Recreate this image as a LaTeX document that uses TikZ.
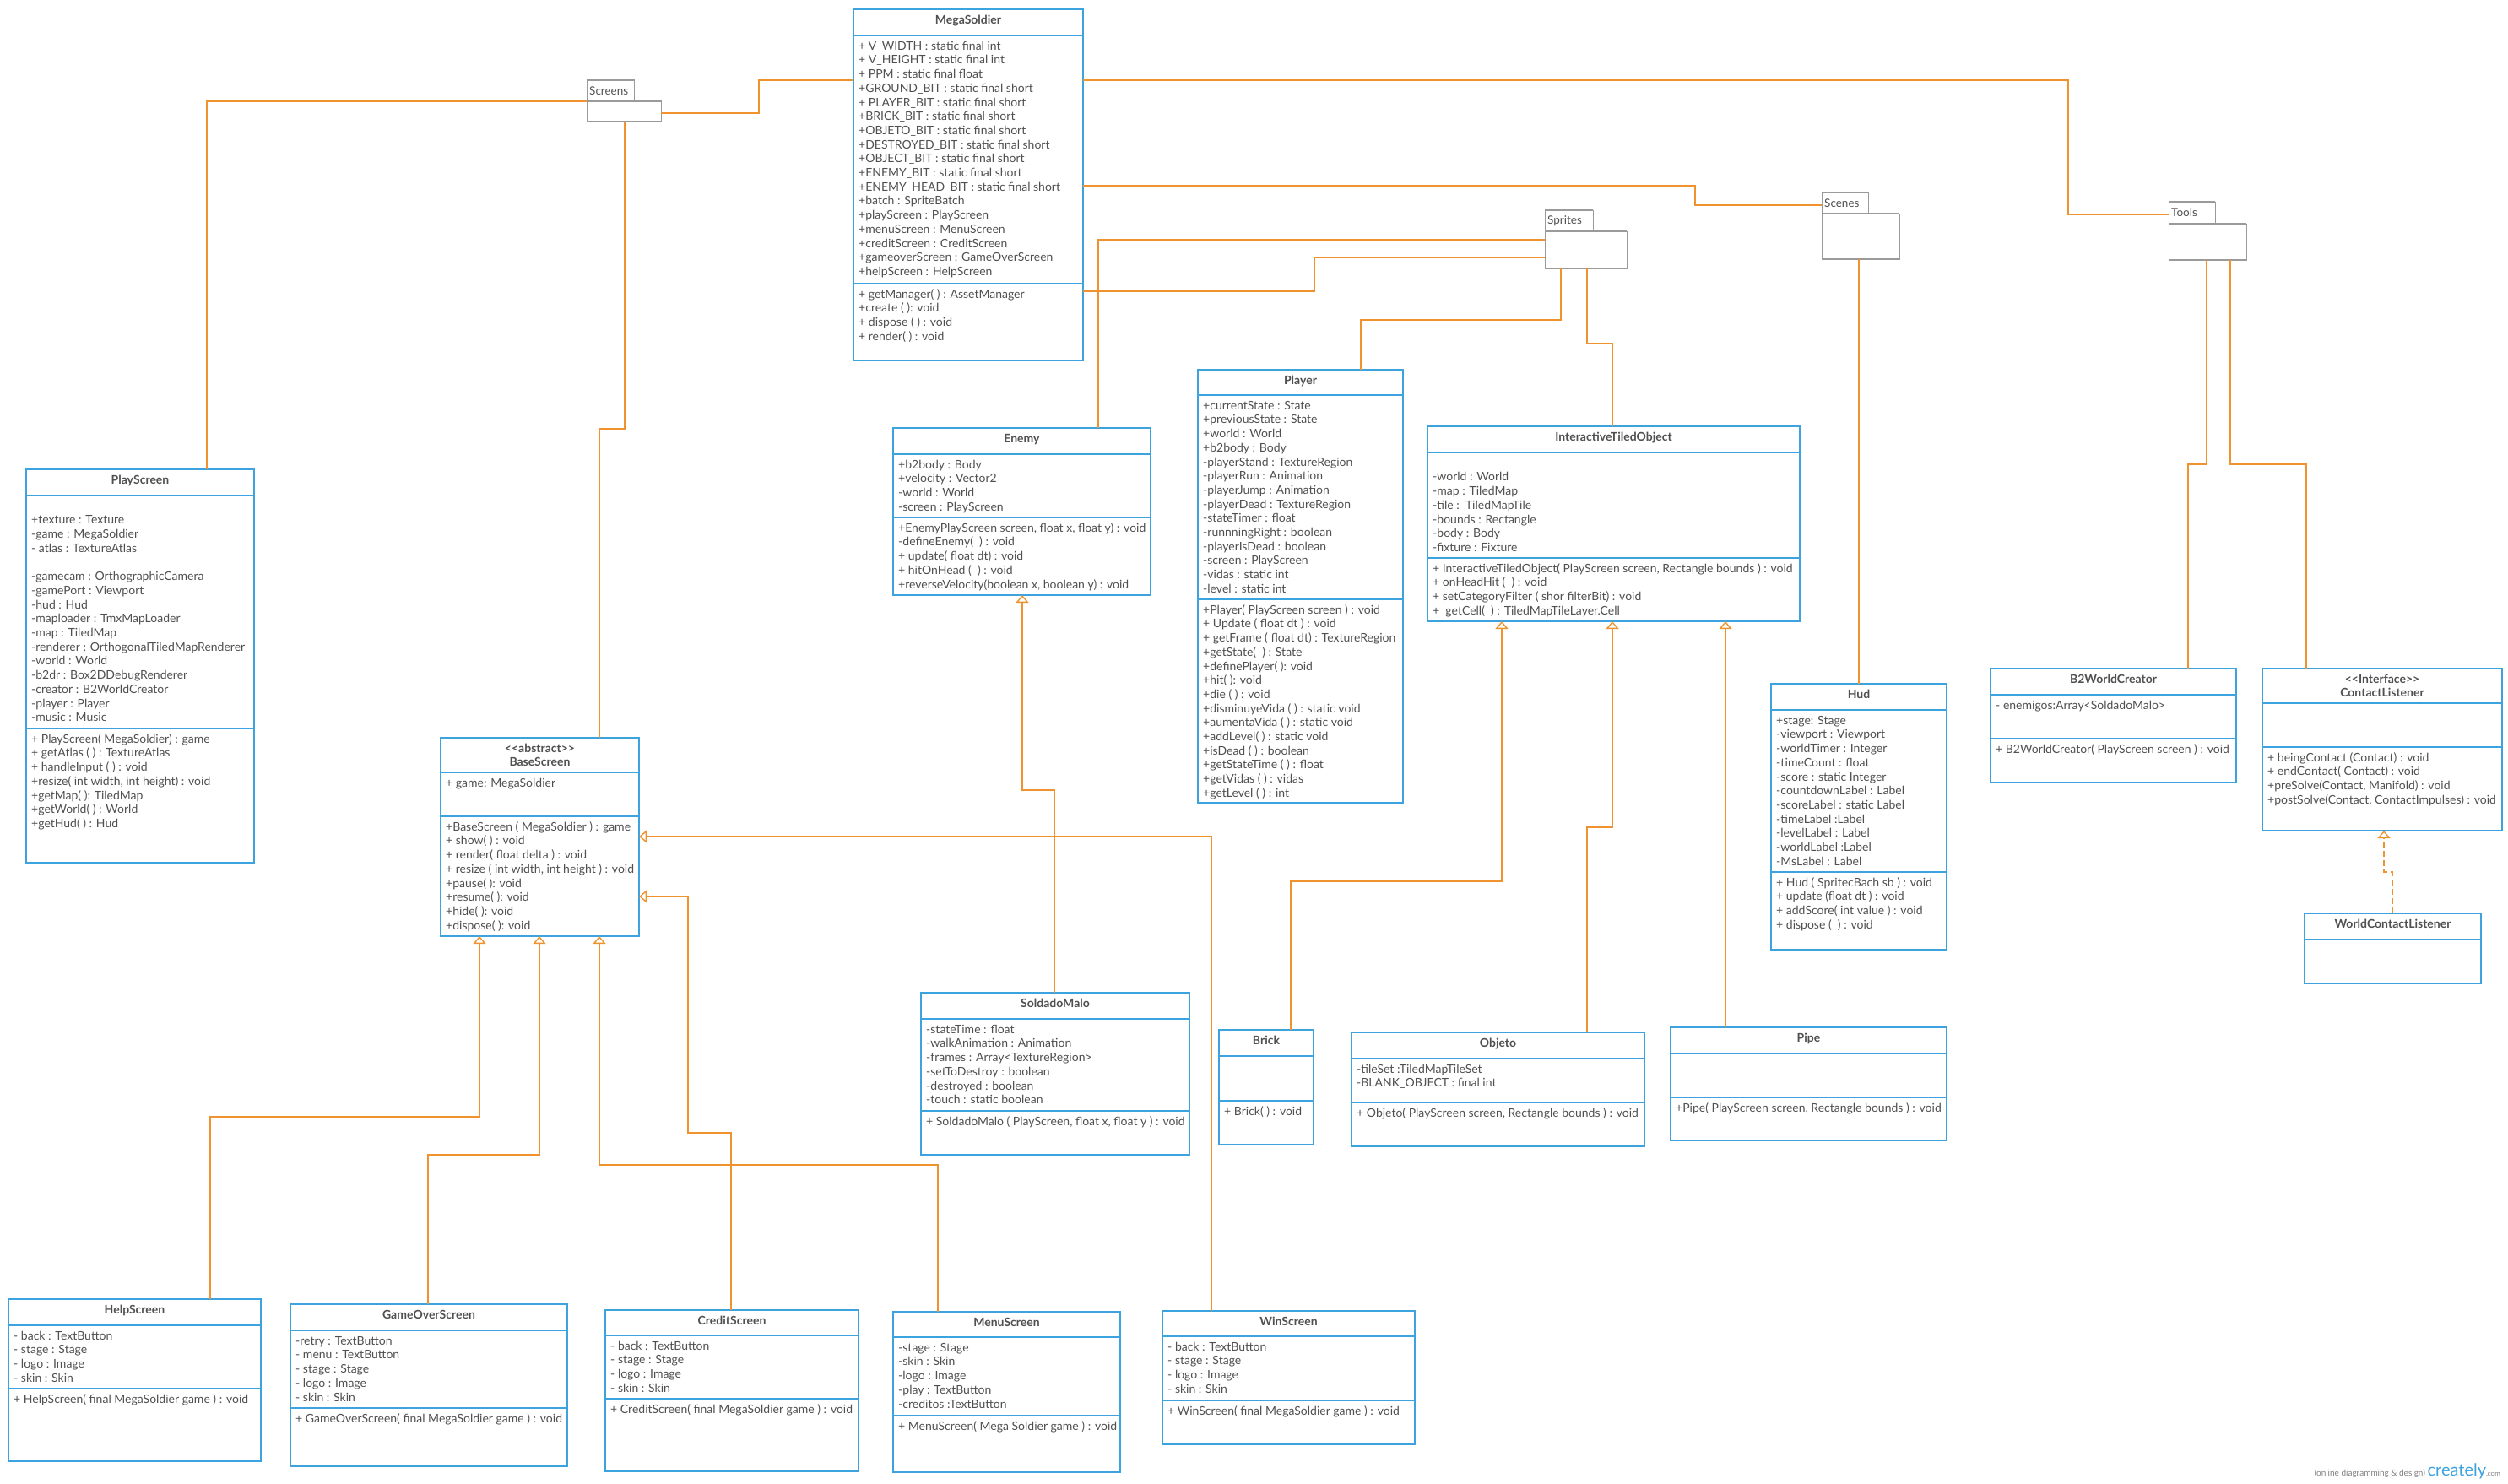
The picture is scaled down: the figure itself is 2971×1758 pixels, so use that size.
\documentclass[tikz,border=0pt]{standalone}
\usepackage{fontspec}
\setmainfont{Lato}
\usetikzlibrary{arrows.meta,calc,fit}

\definecolor{umlblue}{HTML}{3DA3DE}
\definecolor{umlorange}{HTML}{F0932E}
\definecolor{umltext}{HTML}{505050}
\definecolor{pkggray}{HTML}{9A9A9A}

\tikzset{
	classbox/.style={draw=umlblue, line width=1.8pt, fill=white, inner sep=0pt, outer sep=0pt},
	classrule/.style={draw=umlblue, line width=1.8pt},
	classtitle/.style={anchor=north, yshift=-5pt, inner sep=0pt, align=center, text=umltext, font=\bfseries\fontsize{14}{16}\selectfont},
	members/.style={anchor=north west, xshift=6pt, yshift=-5pt, inner sep=0pt, align=left, text=umltext, font=\fontsize{14}{16.7}\selectfont},
	pkgbox/.style={draw=pkggray, line width=1pt, fill=white, inner sep=0pt, outer sep=0pt},
	pkgedge/.style={draw=pkggray, line width=2.5pt},
	pkgtext/.style={anchor=west, inner sep=3pt, text=umltext, font=\fontsize{13.5}{15}\selectfont},
	assoc/.style={draw=umlorange, line width=1.8pt},
	inherit/.style={assoc, -{Triangle[width=15pt, length=9pt, fill=white, line width=1.4pt]}},
	realize/.style={inherit, dash pattern=on 7pt off 4pt},
}

% class box: name, top-left, bottom-right, header line y, split line y, title, attributes, operations
\newcommand{\umlclass}[8]{%
	\node[classbox, fit={(#2) (#3)}] (#1) {};
	\draw[classrule] (#1.west |- 0,#4) -- (#1.east |- 0,#4);
	\draw[classrule] (#1.west |- 0,#5) -- (#1.east |- 0,#5);
	\node[classtitle] (#1-name) at ($(#2)!0.5!(#3 |- #2)$) {\rule{0pt}{12pt}#6};
	\node[members] (#1-attr) at (#1.west |- 0,#4) {\rule{0pt}{12pt}#7};
	\node[members] (#1-ops) at (#1.west |- 0,#5) {\rule{0pt}{12pt}#8};
}

% package: name, tab top-left, tab bottom-right, body bottom-right, label
\newcommand{\umlpkg}[5]{%
	\node[pkgbox, fit={(#2) (#3)}] (#1-tab) {};
	\node[pkgbox, fit={(#2 |- #3) (#4)}] (#1) {};
	\draw[pkgedge] (#1-tab.north west) -- (#1-tab.north east);
	\draw[pkgedge] (#1.north west) -- (#1.north east) (#1.south west) -- (#1.south east);
	\node[pkgtext] (#1-label) at (#1-tab.west) {#5};
}

\begin{document}
\begin{tikzpicture}[x=1pt, y=-1pt]
	% 1. canvas
	\useasboundingbox (0,0) rectangle (2971,1758);
	\fill[white] (0,0) rectangle (2971,1758);

	% 2. packages
	\umlpkg{screens}{695,95}{751,120}{783,144}{Screens}
	\umlpkg{sprites}{1830,249}{1887,274}{1927,318}{Sprites}
	\umlpkg{scenes}{2158,228}{2213,253}{2250,307}{Scenes}
	\umlpkg{tools}{2569,239}{2624,265}{2661,308}{Tools}

	% 3. classes
	\umlclass{mega}{1011,11}{1283,427}{42}{336}{MegaSoldier}
	{+ V\_WIDTH : static final int\\
	+ V\_HEIGHT : static final int\\
	+ PPM : static final float\\
	+GROUND\_BIT : static final short\\
	+ PLAYER\_BIT : static final short\\
	+BRICK\_BIT : static final short\\
	+OBJETO\_BIT : static final short\\
	+DESTROYED\_BIT : static final short\\
	+OBJECT\_BIT : static final short\\
	+ENEMY\_BIT : static final short\\
	+ENEMY\_HEAD\_BIT : static final short\\
	+batch : SpriteBatch\\
	+playScreen : PlayScreen\\
	+menuScreen : MenuScreen\\
	+creditScreen : CreditScreen\\
	+gameoverScreen : GameOverScreen\\
	+helpScreen : HelpScreen}
	{+ getManager( ) : AssetManager\\
	+create ( ): void\\
	+ dispose ( ) : void\\
	+ render( ) : void}

	\umlclass{play}{31,556}{301,1022}{587}{863}{PlayScreen}
	{\\
	+texture : Texture\\
	-game : MegaSoldier\\
	- atlas : TextureAtlas\\
	\mbox{}\\
	-gamecam : OrthographicCamera\\
	-gamePort : Viewport\\
	-hud : Hud\\
	-maploader : TmxMapLoader\\
	-map : TiledMap\\
	-renderer : OrthogonalTiledMapRenderer\\
	-world : World\\
	-b2dr : Box2DDebugRenderer\\
	-creator : B2WorldCreator\\
	-player : Player\\
	-music : Music}
	{+ PlayScreen( MegaSoldier) : game\\
	+ getAtlas ( ) : TextureAtlas\\
	+ handleInput ( ) : void\\
	+resize( int width, int height) : void\\
	+getMap( ): TiledMap\\
	+getWorld( ) : World\\
	+getHud( ) : Hud}

	\umlclass{base}{522,874}{757,1109}{915}{967}{<{}<abstract>{}>\\BaseScreen}
	{+ game: MegaSoldier}
	{+BaseScreen ( MegaSoldier ) : game\\
	+ show( ) : void\\
	+ render( float delta ) : void\\
	+ resize ( int width, int height ) : void\\
	+pause( ): void\\
	+resume( ): void\\
	+hide( ): void\\
	+dispose( ): void}

	\umlclass{enemy}{1058,507}{1363,705}{538}{613}{Enemy}
	{+b2body : Body\\
	+velocity : Vector2\\
	-world : World\\
	-screen : PlayScreen}
	{+EnemyPlayScreen screen, float x, float y) : void\\
	-defineEnemy(\ \ ) : void\\
	+ update( float dt) : void\\
	+ hitOnHead (\ \ ) : void\\
	+reverseVelocity(boolean x, boolean y) : void}

	\umlclass{player}{1419,438}{1662,951}{468}{710}{Player}
	{+currentState : State\\
	+previousState : State\\
	+world : World\\
	+b2body : Body\\
	-playerStand : TextureRegion\\
	-playerRun : Animation\\
	-playerJump : Animation\\
	-playerDead : TextureRegion\\
	-stateTimer : float\\
	-runnningRight : boolean\\
	-playerIsDead : boolean\\
	-screen : PlayScreen\\
	-vidas : static int\\
	-level : static int}
	{+Player( PlayScreen screen ) : void\\
	+ Update ( float dt ) : void\\
	+ getFrame ( float dt) : TextureRegion\\
	+getState(\ \ ) : State\\
	+definePlayer( ): void\\
	+hit( ): void\\
	+die ( ) : void\\
	+disminuyeVida ( ) : static void\\
	+aumentaVida ( ) : static void\\
	+addLevel( ) : static void\\
	+isDead ( ) : boolean\\
	+getStateTime ( ) : float\\
	+getVidas ( ) : vidas\\
	+getLevel ( ) : int}

	\umlclass{ito}{1691,505}{2132,736}{536}{661}{InteractiveTiledObject}
	{\\
	-world : World\\
	-map : TiledMap\\
	-tile :\ \ TiledMapTile\\
	-bounds : Rectangle\\
	-body : Body\\
	-fixture : Fixture}
	{+ InteractiveTiledObject( PlayScreen screen, Rectangle bounds ) : void\\
	+ onHeadHit (\ \ ) : void\\
	+ setCategoryFilter ( shor filterBit) : void\\
	+\ \ getCell(\ \ ) : TiledMapTileLayer.Cell}

	\umlclass{hud}{2098,810}{2306,1125}{841}{1033}{Hud}
	{+stage: Stage\\
	-viewport : Viewport\\
	-worldTimer : Integer\\
	-timeCount : float\\
	-score : static Integer\\
	-countdownLabel : Label\\
	-scoreLabel : static Label\\
	-timeLabel :Label\\
	-levelLabel : Label\\
	-worldLabel :Label\\
	-MsLabel : Label}
	{+ Hud ( SpritecBach sb ) : void\\
	+ update (float dt ) : void\\
	+ addScore( int value ) : void\\
	+ dispose (\ \ ) : void}

	\umlclass{b2}{2358,792}{2649,927}{823}{875}{B2WorldCreator}
	{- enemigos:Array<SoldadoMalo>}
	{+ B2WorldCreator( PlayScreen screen ) : void}

	\umlclass{cl}{2680,792}{2964,984}{833}{885}{<{}<Interface>{}>\\ContactListener}
	{}
	{+ beingContact (Contact) : void\\
	+ endContact( Contact) : void\\
	+preSolve(Contact, Manifold) : void\\
	+postSolve(Contact, ContactImpulses) : void}

	\umlclass{wcl}{2730,1082}{2939,1165}{1113}{1113}{WorldContactListener}{}{}

	\umlclass{soldado}{1091,1176}{1409,1368}{1207}{1316}{SoldadoMalo}
	{-stateTime : float\\
	-walkAnimation : Animation\\
	-frames : Array<TextureRegion>\\
	-setToDestroy : boolean\\
	-destroyed : boolean\\
	-touch : static boolean}
	{+ SoldadoMalo ( PlayScreen, float x, float y ) : void}

	\umlclass{brick}{1444,1220}{1556,1356}{1251}{1304}{Brick}
	{}
	{+ Brick( ) : void}

	\umlclass{objeto}{1601,1223}{1948,1358}{1254}{1306}{Objeto}
	{-tileSet :TiledMapTileSet\\
	-BLANK\_OBJECT : final int}
	{+ Objeto( PlayScreen screen, Rectangle bounds ) : void}

	\umlclass{pipe}{1979,1217}{2306,1351}{1248}{1300}{Pipe}
	{}
	{+Pipe( PlayScreen screen, Rectangle bounds ) : void}

	\umlclass{help}{10,1539}{309,1731}{1570}{1645}{HelpScreen}
	{- back : TextButton\\
	- stage : Stage\\
	- logo : Image\\
	- skin : Skin}
	{+ HelpScreen( final MegaSoldier game ) : void}

	\umlclass{gameover}{344,1545}{672,1737}{1576}{1668}{GameOverScreen}
	{-retry : TextButton\\
	- menu : TextButton\\
	- stage : Stage\\
	- logo : Image\\
	- skin : Skin}
	{+ GameOverScreen( final MegaSoldier game ) : void}

	\umlclass{credit}{717,1552}{1017,1743}{1582}{1657}{CreditScreen}
	{- back : TextButton\\
	- stage : Stage\\
	- logo : Image\\
	- skin : Skin}
	{+ CreditScreen( final MegaSoldier game ) : void}

	\umlclass{menu}{1058,1554}{1327,1744}{1584}{1677}{MenuScreen}
	{-stage : Stage\\
	-skin : Skin\\
	-logo : Image\\
	-play : TextButton\\
	-creditos :TextButton}
	{+ MenuScreen( Mega Soldier game ) : void}

	\umlclass{win}{1377,1553}{1676,1711}{1583}{1659}{WinScreen}
	{- back : TextButton\\
	- stage : Stage\\
	- logo : Image\\
	- skin : Skin}
	{+ WinScreen( final MegaSoldier game ) : void}

	% 4. package links
	\draw[assoc] (play.north -| 245,0) |- (screens.north west);
	\draw[assoc] (screens.east |- 0,134) -| (899,95) -- (mega.west |- 0,95);
	\draw[assoc] (screens.south -| 740,0) |- (710,508) -- (base.north -| 710,0);
	\draw[assoc] (mega.east |- 0,95) -| (2450,254) -- (tools-tab.west |- 0,254);
	\draw[assoc] (mega.east |- 0,220) -| (2008,243) -- (scenes-tab.west |- 0,243);
	\draw[assoc] (mega.east |- 0,345) -| (1557,305) -- (sprites.west |- 0,305);
	\draw[assoc] (sprites.west |- 0,284) -| (enemy.north -| 1301,0);
	\draw[assoc] (sprites.south -| 1849,0) |- (1612,379) -- (player.north -| 1612,0);
	\draw[assoc] (sprites.south -| 1880,0) |- (1910,407) -- (ito.north -| 1910,0);
	\draw[assoc] (scenes.south -| 2202,0) -- (hud.north -| 2202,0);
	\draw[assoc] (tools.south -| 2614,0) |- (2592,550) -- (b2.north -| 2592,0);
	\draw[assoc] (tools.south -| 2642,0) |- (2732,550) -- (cl.north -| 2732,0);

	% 5. generalization and realization
	\draw[realize] (wcl.north -| 2834,0) |- (2824,1033) -- (cl.south -| 2824,0);
	\draw[inherit] (soldado.north -| 1249,0) |- (1211,936) -- (enemy.south -| 1211,0);
	\draw[inherit] (brick.north -| 1529,0) |- (1779,1044) -- (ito.south -| 1779,0);
	\draw[inherit] (objeto.north -| 1880,0) |- (1910,980) -- (ito.south -| 1910,0);
	\draw[inherit] (pipe.north -| 2044,0) -- (ito.south -| 2044,0);
	\draw[inherit] (help.north -| 249,0) |- (568,1323) -- (base.south -| 568,0);
	\draw[inherit] (gameover.north -| 507,0) |- (639,1368) -- (base.south -| 639,0);
	\draw[inherit] (credit.north -| 866,0) |- (815,1342) |- (base.east |- 0,1062);
	\draw[inherit] (menu.north -| 1111,0) |- (710,1380) -- (base.south -| 710,0);
	\draw[inherit] (win.north -| 1435,0) |- (base.east |- 0,991);

	% 6. watermark
	\node[anchor=base east, inner sep=0pt] (logo) at (2962,1748) {{\color{gray}\fontsize{10}{10}\selectfont (online diagramming \& design)}\ {\color{umlblue}\fontsize{20}{20}\selectfont creately}{\color{gray}\fontsize{8}{8}\selectfont .com}};
\end{tikzpicture}
\end{document}
